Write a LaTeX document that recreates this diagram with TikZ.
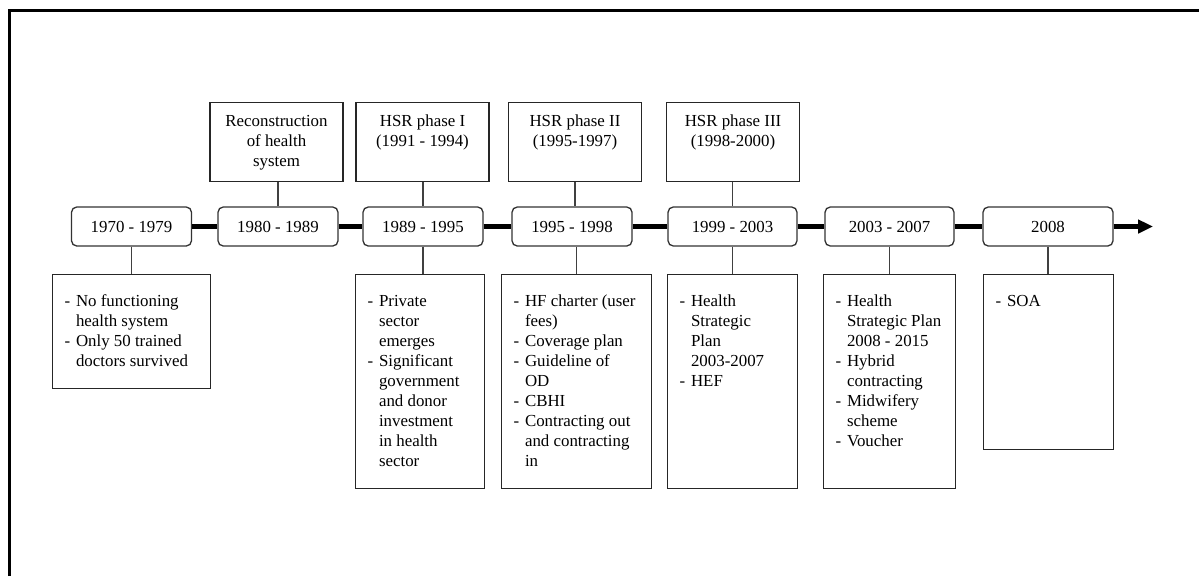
\documentclass[tikz,border=0pt]{standalone}
\usepackage{fontspec}
\setmainfont{Liberation Serif}
\usetikzlibrary{arrows.meta}
\newcommand{\itm}{\strut\makebox[6.5pt][l]{-}}
\newcommand{\cnt}{\strut\hspace*{6.5pt}}
\newcommand{\phasetext}[1]{\parbox[c][45pt][t]{75.7pt}{\vspace*{5.7pt}\centering\strut #1}}
\newcommand{\notetext}[3]{\parbox[c][#1][t]{#2}{\vspace*{10.3pt}\raggedright\leftskip=6.8pt #3}}

\begin{document}
\begin{tikzpicture}[x=0.02cm, y=-0.02cm, font=\fontsize{9.6}{11.38}\selectfont,
  yearbox/.style={draw=black!80, line width=0.75pt, rounded corners=3pt, minimum height=22.2pt, minimum width=#1, inner sep=0pt},
  yearbox/.default=68.3pt,
  phasebox/.style={draw=black!85, line width=0.75pt, inner sep=0pt, anchor=north},
  notebox/.style={draw=black!85, line width=0.75pt, inner sep=0pt, anchor=north west},
  linkline/.style={draw=black!75, line width=0.6pt},
  timeline/.style={line width=2.9pt}]

\useasboundingbox (0,0) rectangle (1199,576);
\draw[line width=1.5pt] (9.7,576) -- (9.7,10.7) -- (1199,10.7);

\node[yearbox] (b1) at (131.5,226.5) {1970 - 1979};
\node[yearbox] (b2) at (278,226.5) {1980 - 1989};
\node[yearbox] (b3) at (423,226.5) {1989 - 1995};
\node[yearbox] (b4) at (572,226.5) {1995 - 1998};
\node[yearbox=73.4pt] (b5) at (732.5,226.5) {1999 - 2003};
\node[yearbox=73.4pt] (b6) at (889.5,226.5) {2003 - 2007};
\node[yearbox=74pt] (b7) at (1048,226.5) {2008};
\coordinate (tip) at (1153,226.5);

\draw[timeline] (b1.east) -- (b2.west);
\draw[timeline] (b2.east) -- (b3.west);
\draw[timeline] (b3.east) -- (b4.west);
\draw[timeline] (b4.east) -- (b5.west);
\draw[timeline] (b5.east) -- (b6.west);
\draw[timeline] (b6.east) -- (b7.west);
\draw[timeline, -{Triangle[length=8.5pt, width=7.5pt]}] (b7.east) -- (tip);

\node[phasebox] (t2) at (276.5,102) {\phasetext{Reconstruction\\of health\\system}};
\node[phasebox] (t3) at (422.5,102) {\phasetext{HSR phase I\\(1991 - 1994)}};
\node[phasebox] (t4) at (575,102) {\phasetext{HSR phase II\\(1995-1997)}};
\node[phasebox] (t5) at (733,102) {\phasetext{HSR phase III\\(1998-2000)}};

\node[notebox] (d1) at (52,274) {\notetext{64.9pt}{89.9pt}{\itm No functioning\\ \cnt health system\\ \itm Only 50 trained\\ \cnt doctors survived}};
\node[notebox] (d3) at (355,274) {\notetext{121.8pt}{73.4pt}{\itm Private\\ \cnt sector\\ \cnt emerges\\ \itm Significant\\ \cnt government\\ \cnt and donor\\ \cnt investment\\ \cnt in health\\ \cnt sector}};
\node[notebox] (d4) at (501,274) {\notetext{121.8pt}{85.4pt}{\itm HF charter (user\\ \cnt fees)\\ \itm Coverage plan\\ \itm Guideline of\\ \cnt OD\\ \itm CBHI\\ \itm Contracting out\\ \cnt and contracting\\ \cnt in}};
\node[notebox] (d5) at (667,274) {\notetext{121.8pt}{74pt}{\itm Health\\ \cnt Strategic\\ \cnt Plan\\ \cnt 2003-2007\\ \itm HEF}};
\node[notebox] (d6) at (823,274) {\notetext{121.8pt}{75.1pt}{\itm Health\\ \cnt Strategic Plan\\ \cnt 2008 - 2015\\ \itm Hybrid\\ \cnt contracting\\ \itm Midwifery\\ \cnt scheme\\ \itm Voucher}};
\node[notebox] (d7) at (983,274) {\notetext{99.6pt}{74pt}{\itm SOA}};

\draw[linkline] (b2.north) -- (b2.north |- t2.south);
\draw[linkline] (b3.north) -- (b3.north |- t3.south);
\draw[linkline] (t4.south) -- (t4.south |- b4.north);
\draw[linkline] (b5.north) -- (b5.north |- t5.south);

\draw[linkline] (b1.south) -- (b1.south |- d1.north);
\draw[linkline] (b3.south) -- (b3.south |- d3.north);
\draw[linkline] (d4.north) -- (d4.north |- b4.south);
\draw[linkline] (b5.south) -- (b5.south |- d5.north);
\draw[linkline] (b6.south) -- (b6.south |- d6.north);
\draw[linkline] (b7.south) -- (b7.south |- d7.north);

\end{tikzpicture}
\end{document}
